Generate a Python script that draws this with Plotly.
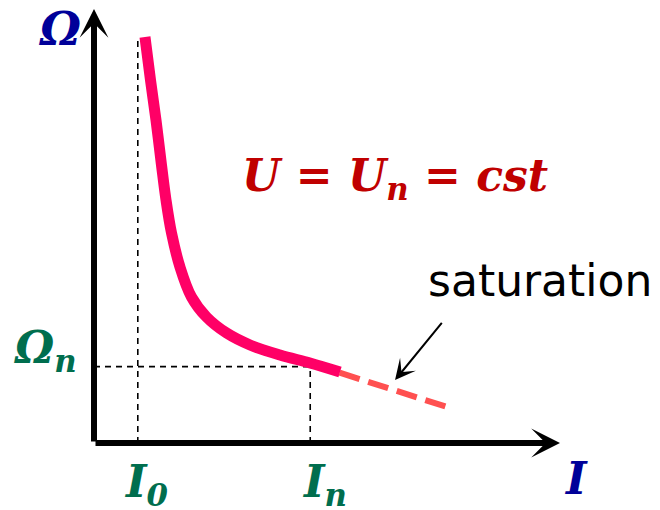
import plotly.graph_objects as go

# Characteristic Omega(I) at constant voltage (series motor)
I_curve = [1.094, 1.212, 1.330, 1.448, 1.545, 1.663, 1.845, 2.092, 2.414,
           2.843, 3.348, 3.991, 4.635, 5.279]
omega_curve = [9.355, 8.364, 7.442, 6.406, 5.599, 4.839, 4.055, 3.364, 2.903,
               2.535, 2.258, 2.028, 1.843, 1.636]

# saturation continuation (dashed)
I_sat = [5.27, 7.72]
omega_sat = [1.62, 0.78]

# reference values
I_0 = 0.94
I_n = 4.64
omega_n = 1.76
omega_top = 9.29
axis_max = 10

colors = {
    "curve": "#FF0066",
    "sat": "#FF5050",
    "axis_label": "#000099",
    "marks": "#006E4E",
    "formula": "#C00000",
}

math_font = "DejaVu Serif"

fig = go.Figure()

# guide lines
guide = dict(color="black", width=1.6, dash="6px,5px")
fig.add_trace(go.Scatter(x=[I_0, I_0], y=[0, omega_top], mode="lines", line=guide))
fig.add_trace(go.Scatter(x=[0, I_n + 0.55], y=[omega_n, omega_n], mode="lines", line=guide))
fig.add_trace(go.Scatter(x=[I_n, I_n], y=[0, omega_n], mode="lines", line=guide))

# saturation part
fig.add_trace(go.Scatter(x=I_sat, y=omega_sat, mode="lines",
                         line=dict(color=colors["sat"], width=6, dash="21px,9px")))
# main curve
fig.add_trace(go.Scatter(x=I_curve, y=omega_curve, mode="lines",
                         line=dict(color=colors["curve"], width=11, shape="spline", smoothing=1)))

# axes with arrows
for tip in [(axis_max, 0), (0, axis_max)]:
    fig.add_annotation(x=tip[0], y=tip[1], ax=0, ay=0, axref="x", ayref="y",
                       showarrow=True, arrowhead=3, arrowsize=0.8, arrowwidth=6,
                       arrowcolor="black", text="")

# saturation pointer
fig.add_annotation(x=6.46, y=1.45, ax=7.49, ay=2.80, axref="x", ayref="y",
                   showarrow=True, arrowhead=3, arrowsize=1.7, arrowwidth=2,
                   arrowcolor="black", text="")
fig.add_annotation(x=9.57, y=3.74, text="saturation", showarrow=False,
                   font=dict(family="DejaVu Sans", size=44, color="black"))

# labels
fig.add_annotation(x=-0.75, y=9.55, text="<b><i>Ω</i></b>", showarrow=False,
                   font=dict(family=math_font, size=46, color=colors["axis_label"]))
fig.add_annotation(x=10.35, y=-0.82, text="<b><i>I</i></b>", showarrow=False,
                   font=dict(family=math_font, size=44, color=colors["axis_label"]))
fig.add_annotation(x=-1.05, y=omega_n + 0.38, text="<b><i>Ω<sub>n</sub></i></b>", showarrow=False,
                   font=dict(family=math_font, size=44, color=colors["marks"]))
fig.add_annotation(x=I_0 + 0.19, y=-0.95, text="<b><i>I<sub>0</sub></i></b>", showarrow=False,
                   font=dict(family=math_font, size=44, color=colors["marks"]))
fig.add_annotation(x=I_n + 0.3, y=-0.95, text="<b><i>I<sub>n</sub></i></b>", showarrow=False,
                   font=dict(family=math_font, size=44, color=colors["marks"]))
fig.add_annotation(x=6.45, y=6.1, text="<b><i>U = U<sub>n</sub> = cst</i></b>", showarrow=False,
                   font=dict(family=math_font, size=44, color=colors["formula"]))

# pixel mapping: x_px = 94 + 46.6*I, y_px = 443 - 43.4*Omega
fig.update_layout(
    width=660, height=510,
    margin=dict(l=0, r=0, t=0, b=0),
    paper_bgcolor="white", plot_bgcolor="white",
    showlegend=False,
    xaxis=dict(range=[-94 / 46.6, 566 / 46.6], visible=False, fixedrange=True),
    yaxis=dict(range=[-67 / 43.4, 443 / 43.4], visible=False, fixedrange=True),
)

fig.write_html("out.html", config={"displayModeBar": False},
               post_script="document.body.style.margin='0';")
